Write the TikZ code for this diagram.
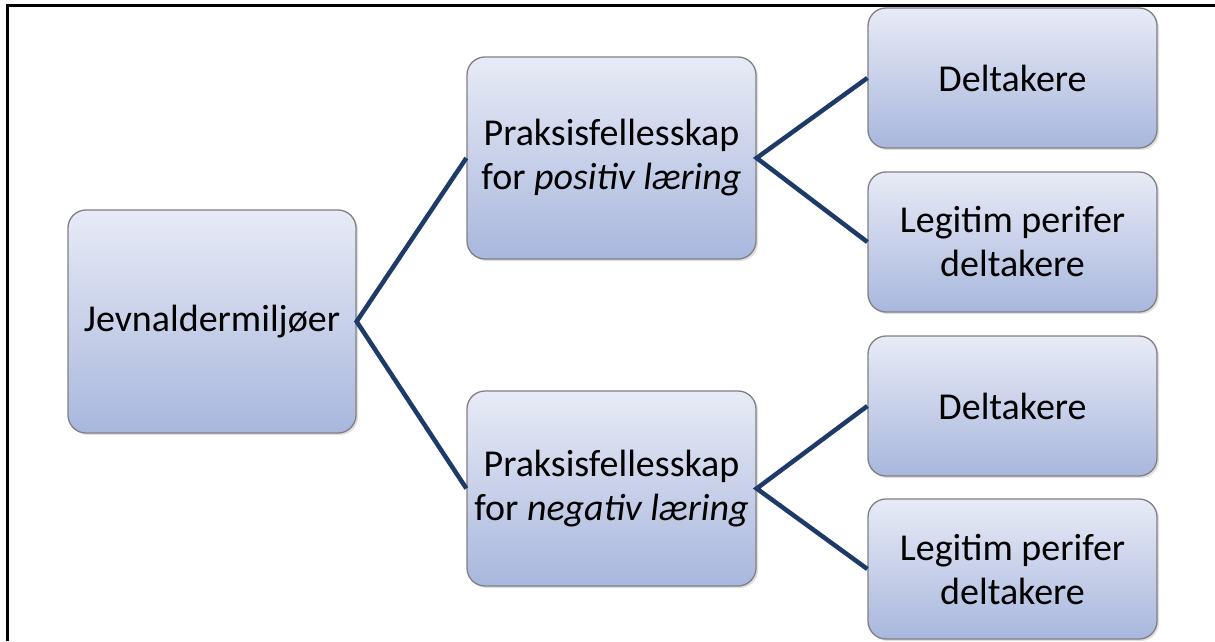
\documentclass[tikz,border=0pt]{standalone}
\usepackage{fontspec}
\setmainfont{Carlito}
\usetikzlibrary{shadows}
\definecolor{boxtop}{RGB}{232,235,246}
\definecolor{boxbot}{RGB}{168,183,221}
\definecolor{boxline}{RGB}{128,128,132}
\definecolor{conn}{RGB}{30,58,104}
\tikzset{
  boxnode/.style={draw=boxline, line width=1.3pt, rounded corners=18pt,
    top color=boxtop, bottom color=boxbot, align=center,
    font=\fontsize{38}{44}\selectfont, inner sep=0pt,
    drop shadow={opacity=0.25, shadow xshift=2pt, shadow yshift=-2pt}},
  connline/.style={draw=conn, line width=4.5pt},
  frameline/.style={draw=black, line width=3.2pt}
}
\begin{document}
\begin{tikzpicture}[x=1pt,y=1pt]
\useasboundingbox (0,0) rectangle (1215,641);
\draw[frameline] (7.8,0) -- (7.8,635.5) -- (1215,635.5);
\node[boxnode, minimum width=288pt, minimum height=223pt] (jev) at (212,319.5) {Jevnaldermiljøer};
\node[boxnode, minimum width=289pt, minimum height=202pt] (pos) at (611.5,483) {Praksisfellesskap\\for \textit{positiv læring}};
\node[boxnode, minimum width=289pt, minimum height=195pt] (neg) at (611.5,152.5) {Praksisfellesskap\\for \textit{negativ læring}};
\node[boxnode, minimum width=289pt, minimum height=140pt] (d1) at (1012.5,563) {Deltakere};
\node[boxnode, minimum width=289pt, minimum height=140pt] (l1) at (1012.5,399) {Legitim perifer\\deltakere};
\node[boxnode, minimum width=289pt, minimum height=140pt] (d2) at (1012.5,235) {Deltakere};
\node[boxnode, minimum width=289pt, minimum height=140pt] (l2) at (1012.5,72) {Legitim perifer\\deltakere};
\draw[connline] (pos.west) -- (jev.east) -- (neg.west);
\draw[connline] (d1.west) -- (pos.east) -- (l1.west);
\draw[connline] (d2.west) -- (neg.east) -- (l2.west);
\end{tikzpicture}
\end{document}
